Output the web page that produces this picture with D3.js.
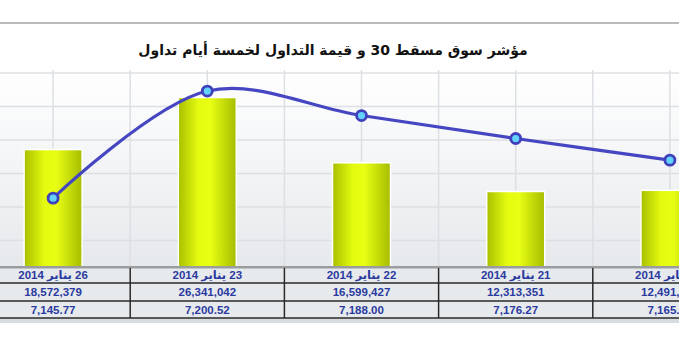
<!DOCTYPE html>
<html><head><meta charset="utf-8">
<script src="https://cdn.jsdelivr.net/npm/d3@7"></script>
<style>html,body{margin:0;padding:0;background:#fff;overflow:hidden}</style>
</head><body>
<svg id="c" width="679" height="350"></svg>
<script>
const title = "مؤشر سوق مسقط 30 و قيمة التداول لخمسة أيام تداول";
const dates = ["26 يناير 2014", "23 يناير 2014", "22 يناير 2014", "21 يناير 2014", "20 يناير 2014"];
const tradeValues = [18572379, 26341042, 16599427, 12313351, 12491256];
const tradeLabels = ["18,572,379", "26,341,042", "16,599,427", "12,313,351", "12,491,256"];
const indexValues = [7145.77, 7200.52, 7188.00, 7176.27, 7165.20];
const indexLabels = ["7,145.77", "7,200.52", "7,188.00", "7,176.27", "7,165.20"];
const barTicks = [0, 5e6, 10e6, 15e6, 20e6, 25e6, 30e6];

const svg = d3.select("#c");
const W = 679;
const defs = svg.append("defs");
const bg = defs.append("linearGradient").attr("id","bg").attr("x1",0).attr("y1",0).attr("x2",0).attr("y2",1);
bg.append("stop").attr("offset","0%").attr("stop-color","#ffffff");
bg.append("stop").attr("offset","100%").attr("stop-color","#e6e9ec");
const bar = defs.append("linearGradient").attr("id","bar").attr("x1",0).attr("y1",0).attr("x2",1).attr("y2",0);
bar.append("stop").attr("offset","0%").attr("stop-color","#a9bf00");
bar.append("stop").attr("offset","35%").attr("stop-color","#e4fb10");
bar.append("stop").attr("offset","55%").attr("stop-color","#e8ff14");
bar.append("stop").attr("offset","100%").attr("stop-color","#a6bc00");

const plotTop = 70, tableTop = 267;
const x = d3.scaleBand().domain(dates).range([-24, 747]).padding(0);
const y = d3.scaleLinear().domain([0, 30e6]).range([274, 73]);
const y2 = d3.scaleLinear().domain([7130, 7210]).range([229, 72.5]);

// top rule
svg.append("rect").attr("x",0).attr("y",22).attr("width",W).attr("height",2).attr("fill","#b9bcbf");
// title
svg.append("text").attr("x",333).attr("y",55).attr("text-anchor","middle").attr("direction","rtl")
  .attr("font-family","DejaVu Sans, sans-serif").attr("font-weight","bold").attr("font-size",14)
  .attr("fill","#111").text(title);

// plot background
svg.append("rect").attr("x",0).attr("y",plotTop).attr("width",W).attr("height",tableTop-plotTop).attr("fill","url(#bg)");
// grid
const g = svg.append("g").attr("stroke","#dcdfe3").attr("stroke-width",1.5);
barTicks.forEach(t => { const yy = y(t); if (yy >= plotTop && yy < tableTop)
  g.append("line").attr("x1",0).attr("x2",W).attr("y1",yy).attr("y2",yy); });
dates.forEach(d => {
  const c = x(d) + x.bandwidth()/2;
  [x(d), c].forEach(xx => g.append("line").attr("x1",xx).attr("x2",xx).attr("y1",plotTop).attr("y2",tableTop));
});

// bars
const bw = x.bandwidth()*0.376;
svg.append("g").selectAll("rect").data(tradeValues).join("rect")
  .attr("x",(v,i)=>x(dates[i])+x.bandwidth()/2-bw/2)
  .attr("y",v=>y(v))
  .attr("width",bw).attr("height",v=>tableTop-y(v))
  .attr("fill","url(#bar)").attr("stroke","#ffffff").attr("stroke-width",1.5);

// line
const line = d3.line().x((v,i)=>x(dates[i])+x.bandwidth()/2).y(v=>y2(v)).curve(d3.curveCatmullRom.alpha(0.5));
svg.append("path").datum(indexValues).attr("d",line).attr("fill","none")
  .attr("stroke","#4646c2").attr("stroke-width",3.2);
svg.append("g").selectAll("circle").data(indexValues).join("circle")
  .attr("cx",(v,i)=>x(dates[i])+x.bandwidth()/2).attr("cy",v=>y2(v)).attr("r",5)
  .attr("fill","#62d2fa").attr("stroke","#4040bc").attr("stroke-width",2.8);

// table
const rows = [dates, tradeLabels, indexLabels];
const rowY = [267, 283, 301, 318];
svg.append("rect").attr("x",0).attr("y",267).attr("width",W).attr("height",51).attr("fill","#e7eaed");
svg.append("rect").attr("x",0).attr("y",318).attr("width",W).attr("height",5).attr("fill","#d9dcdf");
svg.append("rect").attr("x",0).attr("y",266).attr("width",W).attr("height",2.5).attr("fill","#9a9da0");
const tl = svg.append("g").attr("stroke","#2a2a2a").attr("stroke-width",1.5);
[283, 301, 318].forEach(yy => tl.append("line").attr("x1",0).attr("x2",W).attr("y1",yy).attr("y2",yy));
dates.slice(1).forEach(d => tl.append("line").attr("x1",x(d)).attr("x2",x(d)).attr("y1",268).attr("y2",318));
rows.forEach((r, ri) => {
  svg.append("g").selectAll("text").data(r).join("text")
    .attr("x",(t,i)=>x(dates[i])+x.bandwidth()/2)
    .attr("y",(rowY[ri]+rowY[ri+1])/2+4)
    .attr("text-anchor","middle").attr("direction", ri===0 ? "rtl" : "ltr")
    .attr("font-family","Liberation Sans, DejaVu Sans, sans-serif").attr("font-weight","bold")
    .attr("font-size",11.5).attr("fill","#2b3aa0").text(t=>t);
});
</script>
</body></html>
